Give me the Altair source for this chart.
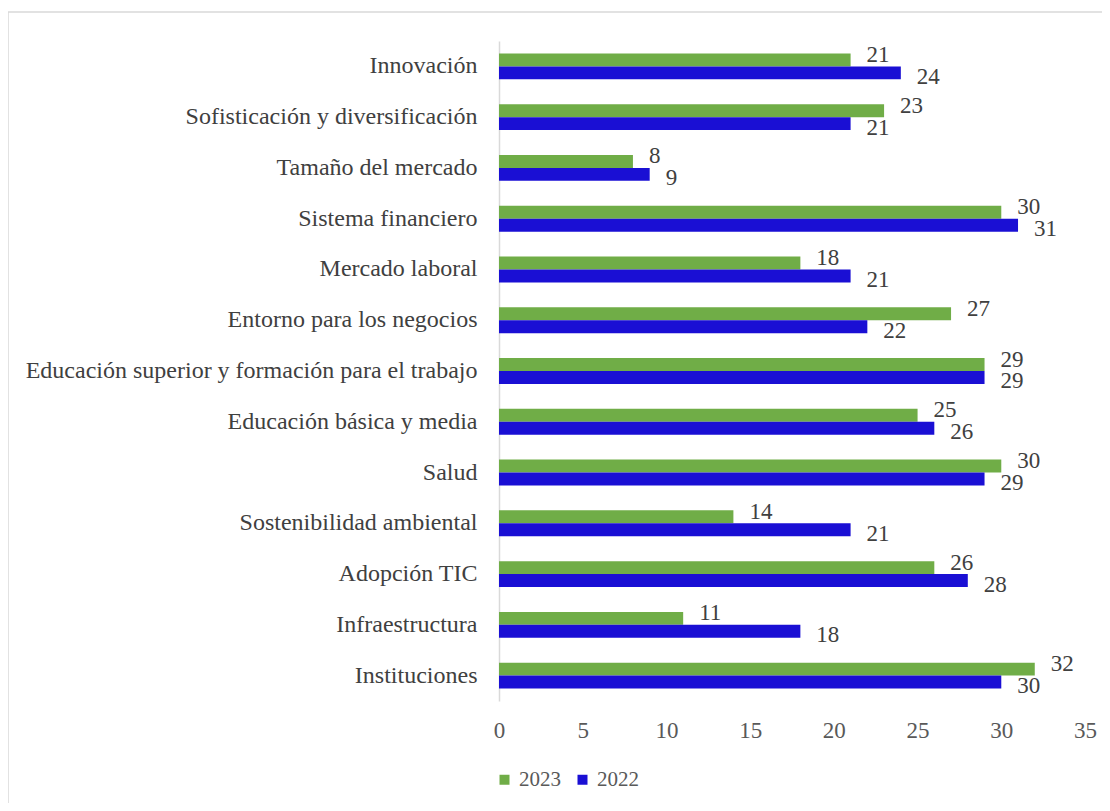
import altair as alt
import pandas as pd

categories = [
    "Innovación ",
    "Sofisticación y diversificación ",
    "Tamaño del mercado",
    "Sistema financiero",
    "Mercado laboral",
    "Entorno para los negocios",
    "Educación superior y formación para el trabajo",
    "Educación básica y media",
    "Salud ",
    "Sostenibilidad ambiental",
    "Adopción TIC",
    "Infraestructura",
    "Instituciones ",
]
values_2023 = [21, 23, 8, 30, 18, 27, 29, 25, 30, 14, 26, 11, 32]
values_2022 = [24, 21, 9, 31, 21, 22, 29, 26, 29, 21, 28, 18, 30]
series = ["2023", "2022"]
colors = ["#70AD47", "#1A0FD4"]
x_ticks = [0, 5, 10, 15, 20, 25, 30, 35]

rows = []
for c, v23, v22 in zip(categories, values_2023, values_2022):
    rows.append({"cat": c, "serie": "2023", "valor": v23})
    rows.append({"cat": c, "serie": "2022", "valor": v22})
df = pd.DataFrame(rows)

FONT = "Liberation Serif"

base = alt.Chart(df).encode(
    y=alt.Y("cat:N", sort=categories, title=None,
            scale=alt.Scale(paddingInner=0.49, paddingOuter=0.245),
            axis=alt.Axis(domain=True, domainColor="#D9D9D9", domainWidth=1.5,
                          ticks=False, labelFont=FONT, labelFontSize=24,
                          labelColor="#404040", labelPadding=22, labelLimit=700)),
    yOffset=alt.YOffset("serie:N", sort=series, scale=alt.Scale(paddingInner=0, paddingOuter=0)),
)

bars = base.mark_bar().encode(
    x=alt.X("valor:Q", title=None,
            scale=alt.Scale(domain=[0, 35], nice=False),
            axis=alt.Axis(values=x_ticks, domain=False, ticks=False, grid=False,
                          labelFlush=False,
                          labelFont=FONT, labelFontSize=23, labelColor="#595959",
                          labelPadding=18)),
    color=alt.Color("serie:N", sort=series,
                    scale=alt.Scale(domain=series, range=colors),
                    legend=alt.Legend(title=None, orient="none", direction="horizontal",
                                      legendX=-5, legendY=728, symbolType="square",
                                      symbolSize=100, symbolStrokeWidth=0,
                                      labelFont=FONT, labelFontSize=21,
                                      labelColor="#595959", labelOffset=4,
                                      columnPadding=11)),
)

text23 = base.mark_text(align="left", baseline="middle", dx=16, dy=-5,
                        font=FONT, fontSize=23, color="#404040").encode(
    x="valor:Q", text="valor:Q"
).transform_filter(alt.datum.serie == "2023")

text22 = base.mark_text(align="left", baseline="middle", dx=16, dy=4,
                        font=FONT, fontSize=23, color="#404040").encode(
    x="valor:Q", text="valor:Q"
).transform_filter(alt.datum.serie == "2022")

one = pd.DataFrame({"a": [0]})
border_top = alt.Chart(one).mark_rule(stroke="#D9D9D9", strokeWidth=1.5, clip=False).encode(
    x=alt.value(-491), x2=alt.value(640), y=alt.value(-29), y2=alt.value(-29),
)
border_left = alt.Chart(one).mark_rule(stroke="#D9D9D9", strokeWidth=1.5, clip=False).encode(
    x=alt.value(-491), x2=alt.value(-491), y=alt.value(-29), y2=alt.value(780),
)

chart = alt.layer(border_top, border_left, bars, text23, text22).properties(
    width=586, height=660,
    background="white",
    padding={"left": 491, "top": 33, "right": 17, "bottom": 102},
    autosize=alt.AutoSizeParams(type="none"),
).configure_view(stroke=None, strokeWidth=0)

chart.save("out.html", embed_options={"renderer": "svg", "actions": False})
